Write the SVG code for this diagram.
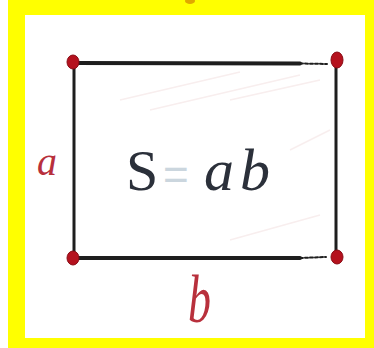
<svg xmlns="http://www.w3.org/2000/svg" width="374" height="348" viewBox="0 0 374 348">
<defs>
<style>
.edge{stroke:#1e1e1e;stroke-linecap:round;fill:none}
.dot{fill:#b5121e;stroke:#8a0d16;stroke-width:1}
.hatch{stroke:#f8eeee;stroke-width:1.5}
.formula{font-family:"Liberation Serif","DejaVu Serif",serif;fill:#2b303a}
.lbl{font-family:"Liberation Serif","DejaVu Serif",serif;font-style:italic;fill:#b8303c}
</style>
</defs>
<rect x="0" y="0" width="374" height="348" fill="#ffffff"/>
<path d="M8 0H374V348H8Z M25 15V338H365V15Z" fill="#ffff00" fill-rule="evenodd"/>
<ellipse cx="190" cy="1" rx="5" ry="3" fill="#e0a800"/>
<g id="hatching">
<line class="hatch" x1="120" y1="100" x2="240" y2="72"/>
<line class="hatch" x1="150" y1="110" x2="300" y2="75"/>
<line class="hatch" x1="230" y1="100" x2="320" y2="80"/>
<line class="hatch" x1="290" y1="150" x2="330" y2="130"/>
<line class="hatch" x1="230" y1="240" x2="320" y2="215"/>
</g>
<g id="connectors">
<path class="edge" d="M74 63 L300 63.5" stroke-width="4"/>
<path class="edge" d="M300 63.5 L327 64" stroke-width="2" stroke="#888" stroke-dasharray="3 2"/>
<path class="edge" d="M74 63 L74 258" stroke-width="3"/>
<path class="edge" d="M336 62 L336 258" stroke-width="3"/>
<path class="edge" d="M74 258 L300 258" stroke-width="4"/>
<path class="edge" d="M300 258 L326 257" stroke-width="2" stroke="#888" stroke-dasharray="3 2"/>
</g>
<g id="corner-tl"><ellipse class="dot" cx="73" cy="62" rx="6" ry="7"/></g>
<g id="corner-tr"><ellipse class="dot" cx="337" cy="60" rx="6" ry="8"/></g>
<g id="corner-bl"><ellipse class="dot" cx="73" cy="258" rx="6" ry="7"/></g>
<g id="corner-br"><ellipse class="dot" cx="337" cy="257" rx="6" ry="7"/></g>
<g id="formula">
<text class="formula" x="126" y="190" font-size="58">S</text>
<text x="163" y="190" font-size="44" font-family="Liberation Sans, sans-serif" fill="#cbd6de">=</text>
<text class="formula" x="204" y="190" font-size="60" font-style="italic">a</text>
<text class="formula" x="240" y="190" font-size="60" font-style="italic">b</text>
</g>
<g id="label-a"><text class="lbl" x="37" y="175" font-size="40">a</text></g>
<g id="label-b"><text class="lbl" x="0" y="0" font-size="46" transform="translate(188 322) scale(1 1.45)">b</text></g>
</svg>
